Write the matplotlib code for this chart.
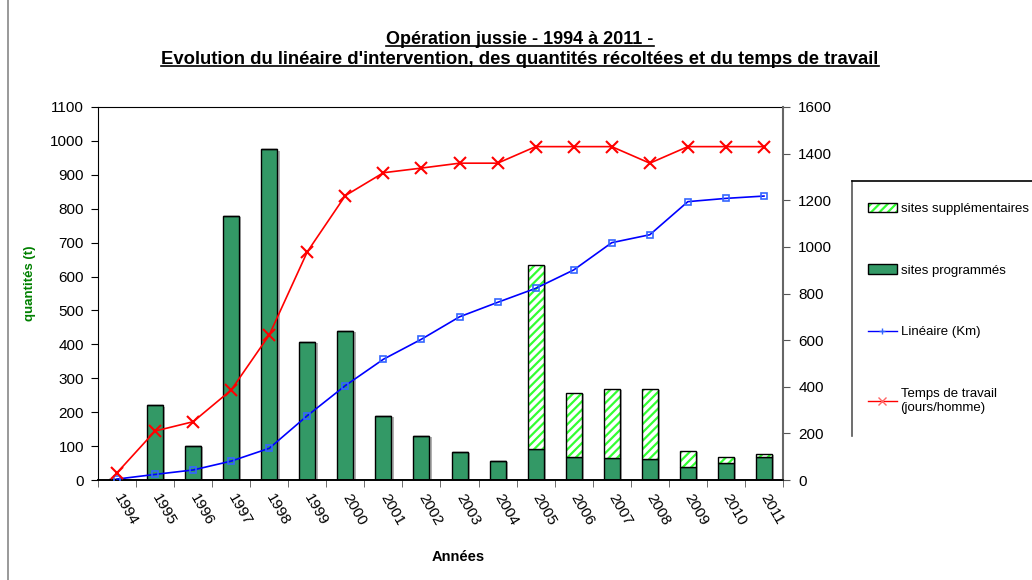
import matplotlib
matplotlib.use("Agg")
import matplotlib.pyplot as plt
import numpy as np
from matplotlib.patches import Rectangle
from matplotlib.lines import Line2D

plt.rcParams['font.family'] = ['Liberation Sans', 'DejaVu Sans']
plt.rcParams['hatch.linewidth'] = 1.6

# données
annees = [str(a) for a in range(1994, 2012)]
sites_programmes = [3, 220, 100, 780, 975, 407, 440, 190, 130, 83, 57, 90, 69, 66, 62, 39, 51, 67]
sites_total = [3, 220, 100, 780, 975, 407, 440, 190, 130, 83, 57, 635, 257, 269, 269, 86, 69, 78]
lineaire_km = [4, 24, 43, 81, 136, 276, 405, 518, 604, 700, 762, 822, 901, 1018, 1052, 1194, 1208, 1218]
temps_travail = [31, 210, 250, 386, 622, 979, 1220, 1318, 1338, 1359, 1359, 1430, 1430, 1430, 1359, 1430, 1430, 1430]

sites_supp = [t - p for t, p in zip(sites_total, sites_programmes)]

vert = '#339966'
hachure = '#33ff33'
x = np.arange(len(annees))
w = 0.42

fig = plt.figure(figsize=(10.32, 5.8), dpi=100)
ax = fig.add_axes([98/1032, 1-480/580, (783-98)/1032, (480-107)/580])
ax2 = ax.twinx()

# ombre grise des barres
ax.bar(x + 0.06, sites_total, w, bottom=-4, color='#b0b0b0', zorder=1)
ax.bar(x, sites_programmes, w, color=vert, edgecolor='black', linewidth=1.0, zorder=2)
ax.bar(x, sites_supp, w, bottom=sites_programmes, color='white', edgecolor=hachure,
       hatch='////', linewidth=0, zorder=2)
ax.bar(x, sites_supp, w, bottom=sites_programmes, fill=False, edgecolor='black',
       linewidth=1.0, zorder=3)

ax2.plot(x, lineaire_km, color='#0000ff', lw=1.2, marker='s', ms=4.5,
         mfc='none', mec='#3366ff', mew=1.2, zorder=4)
ax2.plot(x, temps_travail, color='#ff0000', lw=1.2, marker='x', ms=8,
         mec='#ff0000', mew=1.5, zorder=4)

ax.set_xlim(-0.5, len(annees) - 0.5)
ax.set_ylim(0, 1100)
ax2.set_ylim(0, 1600)
ax.set_yticks(range(0, 1101, 100))
ax2.set_yticks(range(0, 1601, 200))
ax.set_xticks(x)
ax.set_xticklabels(annees, rotation=-60, rotation_mode='anchor', ha='left', va='center', fontsize=11)
ax.set_xticks(np.arange(-0.5, len(annees), 1), minor=True)
ax.tick_params(axis='x', which='major', length=0, pad=11)
ax.tick_params(axis='x', which='minor', length=5, color='#555555')
ax.tick_params(axis='y', labelsize=11, length=5, pad=5)
ax2.tick_params(axis='y', labelsize=11, length=5, pad=6, color='#555555')

ax.spines['left'].set_color('black')
ax.spines['top'].set_color('black')
ax2.spines['top'].set_visible(False)
ax2.spines['left'].set_visible(False)
ax2.spines['right'].set_color('#666666')
ax2.spines['right'].set_linewidth(1.5)
ax.spines['right'].set_visible(False)
for a in (ax, ax2):
    a.spines['bottom'].set_color('black')
    a.spines['bottom'].set_linewidth(1.2)

fig.text(30/1032, 1-283/580, 'quantités (t)', rotation=90, color='#008000', fontsize=9.5,
         fontweight='bold', ha='center', va='center')
fig.text(458/1032, 1-557/580, 'Années', fontsize=10.5, fontweight='bold', ha='center', va='center')

t1 = fig.text(520/1032, 1-39/580, 'Opération jussie - 1994 à 2011 -', fontsize=13,
              fontweight='bold', ha='center', va='center')
t2 = fig.text(520/1032, 1-59/580,
              "Evolution du linéaire d'intervention, des quantités récoltées et du temps de travail",
              fontsize=13.3, fontweight='bold', ha='center', va='center')

# légende
h_supp = (Rectangle((0, 0), 1, 1, facecolor='white', edgecolor=hachure, hatch='////', lw=0),
          Rectangle((0, 0), 1, 1, fill=False, edgecolor='black', lw=1))
h_prog = Rectangle((0, 0), 1, 1, facecolor=vert, edgecolor='black', lw=1)
h_lin = Line2D([], [], color='#0000ff', lw=1, marker='+', ms=4, mec='#3366ff')
h_tps = Line2D([], [], color='#ff0000', lw=1, marker='x', ms=6, mec='#ff6666')
fig.legend([h_supp, h_prog, h_lin, h_tps],
           ['sites supplémentaires', 'sites programmés', 'Linéaire (Km)', 'Temps de travail\n(jours/homme)'],
           loc='upper left', bbox_to_anchor=(861/1032, 1-196/580), frameon=False, fontsize=9.5,
           labelspacing=3.75, handlelength=2.2, handleheight=0.7, handletextpad=0.3, borderpad=0)
fig.add_artist(Line2D([852/1032, 852/1032], [1-181/580, 1-436/580], color='#555555', lw=1.2))
fig.add_artist(Line2D([852/1032, 1.0], [1-181/580, 1-181/580], color='black', lw=1.2))
fig.add_artist(Line2D([8/1032, 8/1032], [0, 1], color='#888888', lw=1.2))

# soulignement du titre
fig.canvas.draw()
r = fig.canvas.get_renderer()
for t in (t1, t2):
    bb = t.get_window_extent(r).transformed(fig.transFigure.inverted())
    fig.add_artist(Line2D([bb.x0, bb.x1], [bb.y0 + 0.002, bb.y0 + 0.002], color='black', lw=1.2))

fig.savefig('out.png', dpi=100)
